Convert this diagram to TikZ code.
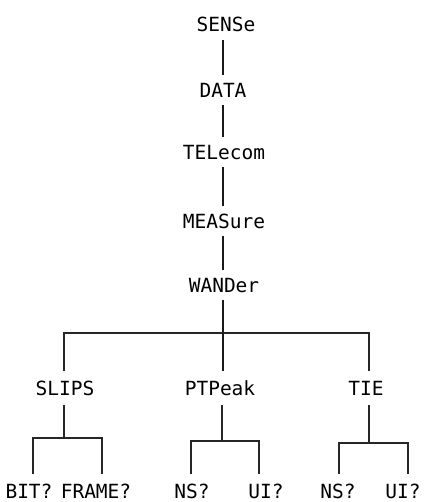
\documentclass[tikz,border=0pt]{standalone}
\usepackage{fontspec}
\newfontfamily\lbfont{DejaVu Sans Mono}
\begin{document}
\begin{tikzpicture}[x=1pt,y=-1pt,
  lbl/.style={font=\lbfont\fontsize{19.5}{22}\selectfont, text height=14.5pt, text depth=0pt, inner xsep=0pt, inner ysep=8pt},
  lbltwo/.style={lbl, inner ysep=10pt},
  conn/.style={line width=2pt, draw=black!90},
  tree/.style={line width=2.6pt, draw=black!85}]
\useasboundingbox (0,0) rectangle (429,502);
% main chain
\node[lbl] (sense) at (226,24.5) {SENSe};
\node[lbl] (data) at (223,90) {DATA};
\node[lbl] (tele) at (224,152) {TELecom};
\node[lbl] (meas) at (224,221) {MEASure};
\node[lbl] (wand) at (224,285) {WANDer};
\draw[conn] (sense.south -| 223,0) -- (data.north -| 223,0);
\draw[conn] (data.south -| 223,0) -- (tele.north -| 223,0);
\draw[conn] (tele.south -| 223,0) -- (meas.north -| 223,0);
\draw[conn] (meas.south -| 223,0) -- (wand.north -| 223,0);
% second level
\node[lbltwo] (slips) at (65,388) {SLIPS};
\node[lbltwo] (ptp) at (220,388) {PTPeak};
\node[lbltwo] (tie) at (366,388) {TIE};
\coordinate (j1) at (223,333);
\coordinate (b1l) at (64,333);
\coordinate (b1r) at (369,333);
\draw[conn] (wand.south -| j1) -- (j1);
\draw[tree] (b1l |- slips.north) -- (b1l) -- (b1r) -- (b1r |- tie.north);
\draw[conn] (j1) -- (ptp.north -| j1);
% third level
\node[lbltwo] (bit) at (29,491) {BIT?};
\node[lbltwo] (frame) at (96,491) {FRAME?};
\node[lbltwo] (ns1) at (192,491) {NS?};
\node[lbltwo] (ui1) at (266,491) {UI?};
\node[lbltwo] (ns2) at (338,491) {NS?};
\node[lbltwo] (ui2) at (403,491) {UI?};
% SLIPS subtree
\coordinate (s1) at (64,438);
\coordinate (s1l) at (33,438);
\coordinate (s1r) at (102,438);
\draw[tree] (slips.south -| s1) -- (s1);
\draw[tree] (s1l |- bit.north) -- (s1l) -- (s1r) -- (s1r |- frame.north);
% PTPeak subtree
\coordinate (s2) at (222,441);
\coordinate (s2l) at (191,441);
\coordinate (s2r) at (259,441);
\draw[tree] (ptp.south -| s2) -- (s2);
\draw[tree] (s2l |- ns1.north) -- (s2l) -- (s2r) -- (s2r |- ui1.north);
% TIE subtree
\coordinate (s3) at (369,443);
\coordinate (s3l) at (339,443);
\coordinate (s3r) at (408,443);
\draw[tree] (tie.south -| s3) -- (s3);
\draw[tree] (s3l |- ns2.north) -- (s3l) -- (s3r) -- (s3r |- ui2.north);
\end{tikzpicture}
\end{document}
